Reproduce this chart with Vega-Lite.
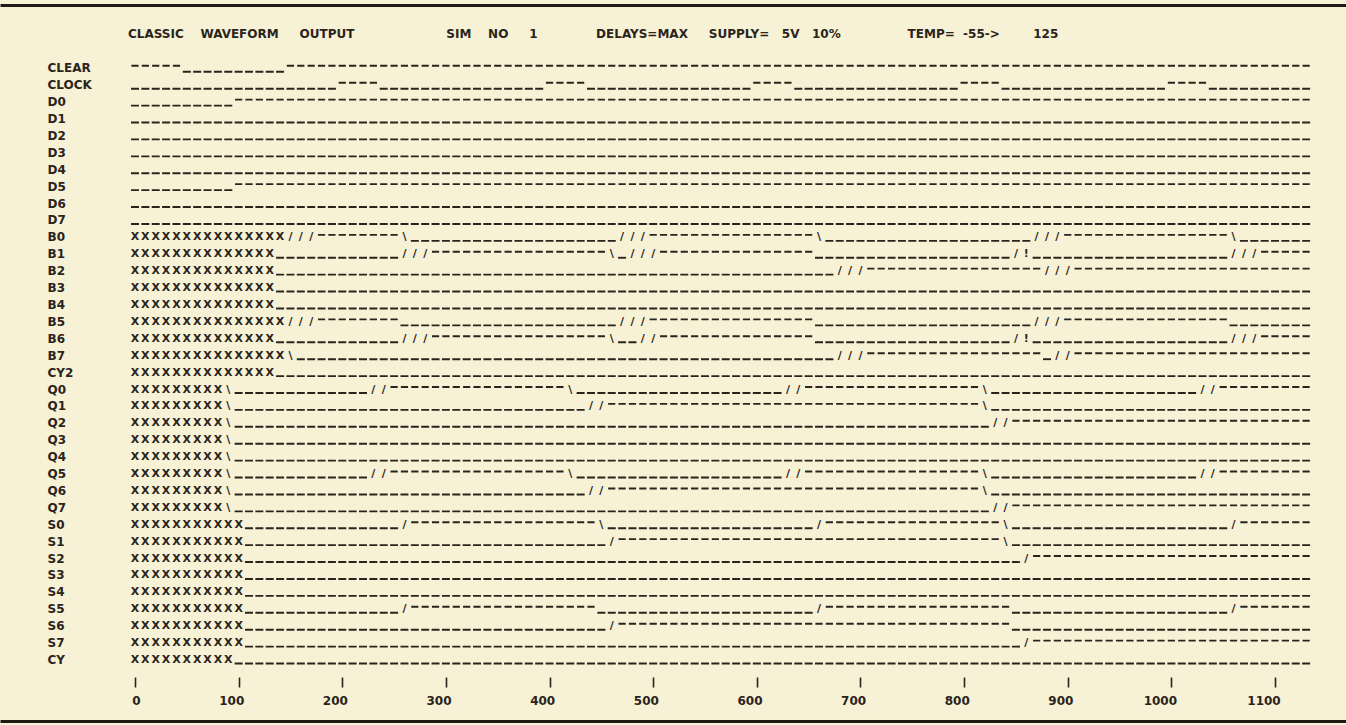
{
  "$schema": "https://vega.github.io/schema/vega-lite/v6.json",
  "width": 1346,
  "height": 725,
  "autosize": "none",
  "padding": 0,
  "background": "#f7f2d5",
  "config": {"view": {"stroke": null}},
  "title": {
    "text": "CLASSIC\u00a0\u00a0\u00a0\u00a0WAVEFORM\u00a0\u00a0\u00a0\u00a0\u00a0OUTPUT\u00a0\u00a0\u00a0\u00a0\u00a0\u00a0\u00a0\u00a0\u00a0\u00a0\u00a0\u00a0\u00a0\u00a0\u00a0\u00a0\u00a0\u00a0\u00a0\u00a0\u00a0\u00a0SIM\u00a0\u00a0\u00a0\u00a0NO\u00a0\u00a0\u00a0\u00a0\u00a01\u00a0\u00a0\u00a0\u00a0\u00a0\u00a0\u00a0\u00a0\u00a0\u00a0\u00a0\u00a0\u00a0\u00a0DELAYS=MAX\u00a0\u00a0\u00a0\u00a0\u00a0SUPPLY=\u00a0\u00a0\u00a05V\u00a0\u00a0\u00a010%\u00a0\u00a0\u00a0\u00a0\u00a0\u00a0\u00a0\u00a0\u00a0\u00a0\u00a0\u00a0\u00a0\u00a0\u00a0\u00a0TEMP=\u00a0\u00a0-55->\u00a0\u00a0\u00a0\u00a0\u00a0\u00a0\u00a0\u00a0125",
    "anchor": "start",
    "frame": "group",
    "orient": "top",
    "offset": -50,
    "baseline": "alphabetic",
    "dx": 128,
    "font": "DejaVu Sans",
    "fontSize": 12,
    "fontWeight": "bold",
    "color": "#2a241c"
  },
  "datasets": {
    "levels": [
      {"s": "CLEAR", "v": "H", "from": 0, "to": 50},
      {"s": "CLEAR", "v": "L", "from": 50, "to": 150},
      {"s": "CLEAR", "v": "H", "from": 150, "to": 1140},
      {"s": "CLOCK", "v": "L", "from": 0, "to": 200},
      {"s": "CLOCK", "v": "H", "from": 200, "to": 240},
      {"s": "CLOCK", "v": "L", "from": 240, "to": 400},
      {"s": "CLOCK", "v": "H", "from": 400, "to": 440},
      {"s": "CLOCK", "v": "L", "from": 440, "to": 600},
      {"s": "CLOCK", "v": "H", "from": 600, "to": 640},
      {"s": "CLOCK", "v": "L", "from": 640, "to": 800},
      {"s": "CLOCK", "v": "H", "from": 800, "to": 840},
      {"s": "CLOCK", "v": "L", "from": 840, "to": 1000},
      {"s": "CLOCK", "v": "H", "from": 1000, "to": 1040},
      {"s": "CLOCK", "v": "L", "from": 1040, "to": 1140},
      {"s": "D0", "v": "L", "from": 0, "to": 100},
      {"s": "D0", "v": "H", "from": 100, "to": 1140},
      {"s": "D1", "v": "L", "from": 0, "to": 1140},
      {"s": "D2", "v": "L", "from": 0, "to": 1140},
      {"s": "D3", "v": "L", "from": 0, "to": 1140},
      {"s": "D4", "v": "L", "from": 0, "to": 1140},
      {"s": "D5", "v": "L", "from": 0, "to": 100},
      {"s": "D5", "v": "H", "from": 100, "to": 1140},
      {"s": "D6", "v": "L", "from": 0, "to": 1140},
      {"s": "D7", "v": "L", "from": 0, "to": 1140},
      {"s": "B0", "v": "H", "from": 180, "to": 260},
      {"s": "B0", "v": "L", "from": 270, "to": 470},
      {"s": "B0", "v": "H", "from": 500, "to": 660},
      {"s": "B0", "v": "L", "from": 670, "to": 870},
      {"s": "B0", "v": "H", "from": 900, "to": 1060},
      {"s": "B0", "v": "L", "from": 1070, "to": 1140},
      {"s": "B1", "v": "L", "from": 140, "to": 260},
      {"s": "B1", "v": "H", "from": 290, "to": 460},
      {"s": "B1", "v": "L", "from": 470, "to": 480},
      {"s": "B1", "v": "H", "from": 510, "to": 660},
      {"s": "B1", "v": "L", "from": 660, "to": 850},
      {"s": "B1", "v": "L", "from": 870, "to": 1060},
      {"s": "B1", "v": "H", "from": 1090, "to": 1140},
      {"s": "B2", "v": "L", "from": 140, "to": 680},
      {"s": "B2", "v": "H", "from": 710, "to": 880},
      {"s": "B2", "v": "H", "from": 910, "to": 1140},
      {"s": "B3", "v": "L", "from": 140, "to": 1140},
      {"s": "B4", "v": "L", "from": 140, "to": 1140},
      {"s": "B5", "v": "H", "from": 180, "to": 260},
      {"s": "B5", "v": "L", "from": 260, "to": 470},
      {"s": "B5", "v": "H", "from": 500, "to": 660},
      {"s": "B5", "v": "L", "from": 660, "to": 870},
      {"s": "B5", "v": "H", "from": 900, "to": 1060},
      {"s": "B5", "v": "L", "from": 1060, "to": 1140},
      {"s": "B6", "v": "L", "from": 140, "to": 260},
      {"s": "B6", "v": "H", "from": 290, "to": 460},
      {"s": "B6", "v": "L", "from": 470, "to": 490},
      {"s": "B6", "v": "H", "from": 510, "to": 660},
      {"s": "B6", "v": "L", "from": 660, "to": 850},
      {"s": "B6", "v": "L", "from": 870, "to": 1060},
      {"s": "B6", "v": "H", "from": 1090, "to": 1140},
      {"s": "B7", "v": "L", "from": 160, "to": 680},
      {"s": "B7", "v": "H", "from": 710, "to": 880},
      {"s": "B7", "v": "L", "from": 880, "to": 890},
      {"s": "B7", "v": "H", "from": 910, "to": 1140},
      {"s": "CY2", "v": "L", "from": 140, "to": 1140},
      {"s": "Q0", "v": "L", "from": 100, "to": 230},
      {"s": "Q0", "v": "H", "from": 250, "to": 420},
      {"s": "Q0", "v": "L", "from": 430, "to": 630},
      {"s": "Q0", "v": "H", "from": 650, "to": 820},
      {"s": "Q0", "v": "L", "from": 830, "to": 1030},
      {"s": "Q0", "v": "H", "from": 1050, "to": 1140},
      {"s": "Q1", "v": "L", "from": 100, "to": 440},
      {"s": "Q1", "v": "H", "from": 460, "to": 820},
      {"s": "Q1", "v": "L", "from": 830, "to": 1140},
      {"s": "Q2", "v": "L", "from": 100, "to": 830},
      {"s": "Q2", "v": "H", "from": 850, "to": 1140},
      {"s": "Q3", "v": "L", "from": 100, "to": 1140},
      {"s": "Q4", "v": "L", "from": 100, "to": 1140},
      {"s": "Q5", "v": "L", "from": 100, "to": 230},
      {"s": "Q5", "v": "H", "from": 250, "to": 420},
      {"s": "Q5", "v": "L", "from": 430, "to": 630},
      {"s": "Q5", "v": "H", "from": 650, "to": 820},
      {"s": "Q5", "v": "L", "from": 830, "to": 1030},
      {"s": "Q5", "v": "H", "from": 1050, "to": 1140},
      {"s": "Q6", "v": "L", "from": 100, "to": 440},
      {"s": "Q6", "v": "H", "from": 460, "to": 820},
      {"s": "Q6", "v": "L", "from": 830, "to": 1140},
      {"s": "Q7", "v": "L", "from": 100, "to": 830},
      {"s": "Q7", "v": "H", "from": 850, "to": 1140},
      {"s": "S0", "v": "L", "from": 110, "to": 260},
      {"s": "S0", "v": "H", "from": 270, "to": 450},
      {"s": "S0", "v": "L", "from": 460, "to": 660},
      {"s": "S0", "v": "H", "from": 670, "to": 840},
      {"s": "S0", "v": "L", "from": 850, "to": 1060},
      {"s": "S0", "v": "H", "from": 1070, "to": 1140},
      {"s": "S1", "v": "L", "from": 110, "to": 460},
      {"s": "S1", "v": "H", "from": 470, "to": 840},
      {"s": "S1", "v": "L", "from": 850, "to": 1140},
      {"s": "S2", "v": "L", "from": 110, "to": 860},
      {"s": "S2", "v": "H", "from": 870, "to": 1140},
      {"s": "S3", "v": "L", "from": 110, "to": 1140},
      {"s": "S4", "v": "L", "from": 110, "to": 1140},
      {"s": "S5", "v": "L", "from": 110, "to": 260},
      {"s": "S5", "v": "H", "from": 270, "to": 450},
      {"s": "S5", "v": "L", "from": 450, "to": 660},
      {"s": "S5", "v": "H", "from": 670, "to": 850},
      {"s": "S5", "v": "L", "from": 850, "to": 1060},
      {"s": "S5", "v": "H", "from": 1070, "to": 1140},
      {"s": "S6", "v": "L", "from": 110, "to": 460},
      {"s": "S6", "v": "H", "from": 470, "to": 850},
      {"s": "S6", "v": "L", "from": 850, "to": 1140},
      {"s": "S7", "v": "L", "from": 110, "to": 860},
      {"s": "S7", "v": "H", "from": 870, "to": 1140},
      {"s": "CY", "v": "L", "from": 100, "to": 1140}
    ],
    "glyphs": [
      {"s": "B0", "g": "X", "t": [0,10,20,30,40,50,60,70,80,90,100,110,120,130,140]},
      {"s": "B0", "g": "/", "t": [150,160,170,470,480,490,870,880,890]},
      {"s": "B0", "g": "\\", "t": [260,660,1060]},
      {"s": "B1", "g": "X", "t": [0,10,20,30,40,50,60,70,80,90,100,110,120,130]},
      {"s": "B1", "g": "/", "t": [260,270,280,480,490,500,850,1060,1070,1080]},
      {"s": "B1", "g": "\\", "t": [460]},
      {"s": "B1", "g": "!", "t": [860]},
      {"s": "B2", "g": "X", "t": [0,10,20,30,40,50,60,70,80,90,100,110,120,130]},
      {"s": "B2", "g": "/", "t": [680,690,700,880,890,900]},
      {"s": "B3", "g": "X", "t": [0,10,20,30,40,50,60,70,80,90,100,110,120,130]},
      {"s": "B4", "g": "X", "t": [0,10,20,30,40,50,60,70,80,90,100,110,120,130]},
      {"s": "B5", "g": "X", "t": [0,10,20,30,40,50,60,70,80,90,100,110,120,130,140]},
      {"s": "B5", "g": "/", "t": [150,160,170,470,480,490,870,880,890]},
      {"s": "B6", "g": "X", "t": [0,10,20,30,40,50,60,70,80,90,100,110,120,130]},
      {"s": "B6", "g": "/", "t": [260,270,280,490,500,850,1060,1070,1080]},
      {"s": "B6", "g": "\\", "t": [460]},
      {"s": "B6", "g": "!", "t": [860]},
      {"s": "B7", "g": "X", "t": [0,10,20,30,40,50,60,70,80,90,100,110,120,130,140]},
      {"s": "B7", "g": "\\", "t": [150]},
      {"s": "B7", "g": "/", "t": [680,690,700,890,900]},
      {"s": "CY2", "g": "X", "t": [0,10,20,30,40,50,60,70,80,90,100,110,120,130]},
      {"s": "Q0", "g": "X", "t": [0,10,20,30,40,50,60,70,80]},
      {"s": "Q0", "g": "\\", "t": [90,420,820]},
      {"s": "Q0", "g": "/", "t": [230,240,630,640,1030,1040]},
      {"s": "Q1", "g": "X", "t": [0,10,20,30,40,50,60,70,80]},
      {"s": "Q1", "g": "\\", "t": [90,820]},
      {"s": "Q1", "g": "/", "t": [440,450]},
      {"s": "Q2", "g": "X", "t": [0,10,20,30,40,50,60,70,80]},
      {"s": "Q2", "g": "\\", "t": [90]},
      {"s": "Q2", "g": "/", "t": [830,840]},
      {"s": "Q3", "g": "X", "t": [0,10,20,30,40,50,60,70,80]},
      {"s": "Q3", "g": "\\", "t": [90]},
      {"s": "Q4", "g": "X", "t": [0,10,20,30,40,50,60,70,80]},
      {"s": "Q4", "g": "\\", "t": [90]},
      {"s": "Q5", "g": "X", "t": [0,10,20,30,40,50,60,70,80]},
      {"s": "Q5", "g": "\\", "t": [90,420,820]},
      {"s": "Q5", "g": "/", "t": [230,240,630,640,1030,1040]},
      {"s": "Q6", "g": "X", "t": [0,10,20,30,40,50,60,70,80]},
      {"s": "Q6", "g": "\\", "t": [90,820]},
      {"s": "Q6", "g": "/", "t": [440,450]},
      {"s": "Q7", "g": "X", "t": [0,10,20,30,40,50,60,70,80]},
      {"s": "Q7", "g": "\\", "t": [90]},
      {"s": "Q7", "g": "/", "t": [830,840]},
      {"s": "S0", "g": "X", "t": [0,10,20,30,40,50,60,70,80,90,100]},
      {"s": "S0", "g": "/", "t": [260,660,1060]},
      {"s": "S0", "g": "\\", "t": [450,840]},
      {"s": "S1", "g": "X", "t": [0,10,20,30,40,50,60,70,80,90,100]},
      {"s": "S1", "g": "/", "t": [460]},
      {"s": "S1", "g": "\\", "t": [840]},
      {"s": "S2", "g": "X", "t": [0,10,20,30,40,50,60,70,80,90,100]},
      {"s": "S2", "g": "/", "t": [860]},
      {"s": "S3", "g": "X", "t": [0,10,20,30,40,50,60,70,80,90,100]},
      {"s": "S4", "g": "X", "t": [0,10,20,30,40,50,60,70,80,90,100]},
      {"s": "S5", "g": "X", "t": [0,10,20,30,40,50,60,70,80,90,100]},
      {"s": "S5", "g": "/", "t": [260,660,1060]},
      {"s": "S6", "g": "X", "t": [0,10,20,30,40,50,60,70,80,90,100]},
      {"s": "S6", "g": "/", "t": [460]},
      {"s": "S7", "g": "X", "t": [0,10,20,30,40,50,60,70,80,90,100]},
      {"s": "S7", "g": "/", "t": [860]},
      {"s": "CY", "g": "X", "t": [0,10,20,30,40,50,60,70,80,90]}
    ]
  },
  "data": {"name": "levels"},
  "resolve": {"axis": {"x": "independent"}},
  "layer": [
    {
      "transform": [{"filter": "datum.v === 'H'"}],
      "mark": {"type": "rule", "strokeWidth": 1.9, "strokeDash": [7.2, 3.164], "strokeDashOffset": 8.764, "color": "#2a241c", "strokeCap": "butt"},
      "encoding": {
        "x": {
          "field": "from", "type": "quantitative",
          "scale": {"domain": [-125.24, 1173.5], "nice": false, "zero": false},
          "axis": {
            "orient": "bottom", "offset": -48, "title": null, "format": "d",
            "values": [0, 100, 200, 300, 400, 500, 600, 700, 800, 900, 1000, 1100],
            "domain": false, "grid": false,
            "ticks": true, "tickSize": 10, "tickWidth": 1.6, "tickColor": "#2a241c", "tickOffset": 5.18,
            "labelOffset": 5.18, "labelAlign": "right", "labelBaseline": "alphabetic", "labelPadding": 17,
            "labelFont": "DejaVu Sans", "labelFontWeight": "bold", "labelFontSize": 12, "labelColor": "#2a241c",
            "labelFlush": false, "labelOverlap": false
          }
        },
        "x2": {"field": "to"},
        "y": {
          "field": "s", "type": "nominal", "bandPosition": 0.352,
          "scale": {"type": "band", "range": [59.85, 668.45], "paddingInner": 0, "paddingOuter": 0,
            "domain": ["CLEAR","CLOCK","D0","D1","D2","D3","D4","D5","D6","D7","B0","B1","B2","B3","B4","B5","B6","B7","CY2","Q0","Q1","Q2","Q3","Q4","Q5","Q6","Q7","S0","S1","S2","S3","S4","S5","S6","S7","CY"]},
          "axis": {
            "orient": "left", "offset": -47, "title": null, "domain": false, "ticks": false, "tickSize": 0, "grid": false,
            "labelAlign": "left", "labelPadding": 0, "labelBaseline": "middle",
            "labelFont": "DejaVu Sans", "labelFontWeight": "bold", "labelFontSize": 12, "labelColor": "#2a241c",
            "labelOverlap": false
          }
        }
      }
    },
    {
      "transform": [{"filter": "datum.v === 'L'"}],
      "mark": {"type": "rule", "strokeWidth": 1.9, "strokeDash": [8, 2.364], "strokeDashOffset": 9.164, "color": "#2a241c", "strokeCap": "butt"},
      "encoding": {
        "x": {
          "field": "from", "type": "quantitative",
          "scale": {"domain": [-125.24, 1173.5], "nice": false, "zero": false},
          "axis": {"orient": "top", "offset": -5, "title": null, "domain": true, "domainWidth": 3, "domainColor": "#1e1a14", "ticks": false, "labels": false, "grid": false}
        },
        "x2": {"field": "to"},
        "y": {"field": "s", "type": "nominal", "bandPosition": 0.707}
      }
    },
    {
      "data": {"name": "glyphs"},
      "transform": [{"flatten": ["t"]}],
      "mark": {"type": "text", "align": "center", "baseline": "middle", "dx": 5.18, "font": "DejaVu Sans", "fontWeight": "bold", "fontSize": 11, "color": "#2a241c"},
      "encoding": {
        "x": {
          "field": "t", "type": "quantitative",
          "scale": {"domain": [-125.24, 1173.5], "nice": false, "zero": false},
          "axis": {"orient": "bottom", "offset": -4, "title": null, "domain": true, "domainWidth": 3, "domainColor": "#1e1a14", "ticks": false, "labels": false, "grid": false}
        },
        "y": {"field": "s", "type": "nominal", "bandPosition": 0.5},
        "text": {"field": "g"}
      }
    }
  ]
}
